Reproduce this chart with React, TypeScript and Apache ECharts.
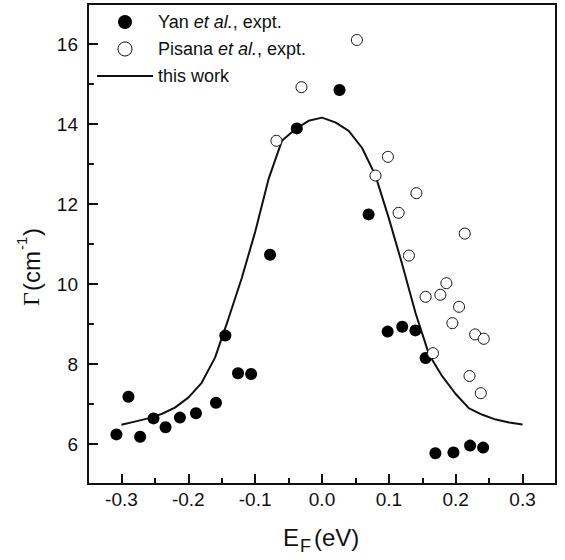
import React, { useEffect, useRef } from 'react';
import * as echarts from 'echarts';

// Yan et al., expt. (filled circles)
const yanX = [-0.3075, -0.2895, -0.272, -0.252, -0.234, -0.2125, -0.1885, -0.1586, -0.1446, -0.1256, -0.106, -0.0777, -0.0377, 0.0262, 0.0697, 0.0982, 0.12, 0.1397, 0.155, 0.1696, 0.1966, 0.2215, 0.241];
const yanY = [6.24, 7.18, 6.18, 6.64, 6.42, 6.66, 6.77, 7.03, 8.71, 7.77, 7.75, 10.73, 13.89, 14.85, 11.74, 8.81, 8.93, 8.84, 8.15, 5.77, 5.79, 5.96, 5.91];

// Pisana et al., expt. (open circles)
const pisX = [-0.0682, -0.0307, 0.0522, 0.08, 0.0986, 0.1146, 0.13, 0.1412, 0.155, 0.166, 0.177, 0.186, 0.195, 0.205, 0.2135, 0.2206, 0.229, 0.2375, 0.242];
const pisY = [13.58, 14.92, 16.1, 12.71, 13.18, 11.78, 10.71, 12.27, 9.68, 8.27, 9.73, 10.02, 9.02, 9.43, 11.26, 7.7, 8.74, 7.27, 8.63];

// this work (solid line)
const curveX = [-0.3, -0.28, -0.26, -0.24, -0.22, -0.2, -0.18, -0.16, -0.14, -0.12, -0.1, -0.08, -0.06, -0.04, -0.02, 0.0, 0.02, 0.04, 0.06, 0.08, 0.1, 0.12, 0.14, 0.16, 0.18, 0.2, 0.22, 0.24, 0.26, 0.28, 0.3];
const curveY = [6.48, 6.56, 6.64, 6.75, 6.91, 7.16, 7.53, 8.16, 9.13, 10.15, 11.3, 12.62, 13.58, 13.87, 14.08, 14.16, 14.04, 13.83, 13.4, 12.71, 11.64, 10.49, 9.27, 8.24, 7.69, 7.25, 6.89, 6.73, 6.61, 6.54, 6.49];

// axis ticks
const xMajor = [-0.3, -0.2, -0.1, 0.0, 0.1, 0.2, 0.3];
const xMinor = [-0.25, -0.15, -0.05, 0.05, 0.15, 0.25];
const yMajor = [6, 8, 10, 12, 14, 16];
const yMinor = [7, 9, 11, 13, 15];

const yanName = 'Yan et al., expt.';
const pisName = 'Pisana et al., expt.';
const curveName = 'this work';

const SANS = '"Liberation Sans", Arial, Helvetica, sans-serif';
const SERIF = '"Liberation Serif", "Times New Roman", serif';
const INK = '#111';

export default function App() {
  const ref = useRef<HTMLDivElement>(null);

  useEffect(() => {
    if (!ref.current) return;
    const chart = echarts.init(ref.current, null, { renderer: 'svg' });

    const zip = (xs: number[], ys: number[]) => xs.map((x, i) => [x, ys[i]]);

    const baseAxis = {
      type: 'value' as const,
      splitLine: { show: false },
    };

    const option: any = {
      animation: false,
      backgroundColor: '#fff',
      grid: {
        left: 88,
        right: 9,
        top: 4,
        bottom: 76,
        show: true,
        borderColor: INK,
        borderWidth: 2,
        backgroundColor: 'transparent',
        containLabel: false,
        outerBoundsMode: 'none',
      },
      xAxis: [
        {
          ...baseAxis,
          min: -0.35,
          max: 0.35,
          position: 'bottom',
          axisLine: { show: true, onZero: false, lineStyle: { color: INK, width: 2 } },
          axisTick: { show: true, inside: true, length: 10, customValues: xMajor, lineStyle: { color: INK, width: 2 } },
          axisLabel: {
            customValues: xMajor,
            formatter: (v: number) => v.toFixed(1),
            fontSize: 19,
            fontFamily: SANS,
            color: INK,
            margin: 6,
          },
        },
        {
          ...baseAxis,
          min: -0.35,
          max: 0.35,
          position: 'bottom',
          axisLine: { show: false, onZero: false },
          axisTick: { show: true, inside: true, length: 6, customValues: xMinor, lineStyle: { color: INK, width: 2 } },
          axisLabel: { show: false },
        },
      ],
      yAxis: [
        {
          ...baseAxis,
          min: 5,
          max: 17,
          position: 'left',
          axisLine: { show: true, onZero: false, lineStyle: { color: INK, width: 2 } },
          axisTick: { show: true, inside: true, length: 10, customValues: yMajor, lineStyle: { color: INK, width: 2 } },
          axisLabel: {
            customValues: yMajor,
            formatter: (v: number) => String(Math.round(v)),
            fontSize: 19,
            fontFamily: SANS,
            color: INK,
            margin: 10,
          },
        },
        {
          ...baseAxis,
          min: 5,
          max: 17,
          position: 'left',
          axisLine: { show: false, onZero: false },
          axisTick: { show: true, inside: true, length: 6, customValues: yMinor, lineStyle: { color: INK, width: 2 } },
          axisLabel: { show: false },
        },
      ],
      legend: {
        orient: 'vertical',
        left: 96,
        top: 12,
        padding: 0,
        itemWidth: 56,
        itemHeight: 14,
        itemGap: 7,
        selectedMode: false,
        textStyle: {
          fontSize: 18,
          fontFamily: SANS,
          color: INK,
          lineHeight: 20,
          rich: {
            i: { fontStyle: 'italic', fontSize: 18, fontFamily: SANS, color: INK, lineHeight: 20 },
          },
        },
        formatter: (name: string) => {
          if (name === yanName) return 'Yan {i|et al.}, expt.';
          if (name === pisName) return 'Pisana {i|et al.}, expt.';
          return name;
        },
        data: [
          { name: yanName, itemStyle: { color: '#000', opacity: 1 } },
          { name: pisName, itemStyle: { borderWidth: 1, borderColor: INK, color: '#fff', opacity: 1 } },
          { name: curveName, itemStyle: { color: 'rgba(0,0,0,0)', borderWidth: 0 } },
        ],
      },
      series: [
        {
          name: curveName,
          type: 'line',
          xAxisIndex: 0,
          yAxisIndex: 0,
          data: zip(curveX, curveY),
          symbol: 'none',
          showSymbol: false,
          lineStyle: { color: INK, width: 2 },
          itemStyle: { color: INK },
          z: 2,
        },
        {
          name: yanName,
          type: 'scatter',
          xAxisIndex: 0,
          yAxisIndex: 0,
          data: zip(yanX, yanY),
          symbol: 'circle',
          symbolSize: 12,
          itemStyle: { color: '#000', opacity: 1 },
          z: 3,
        },
        {
          name: pisName,
          type: 'scatter',
          xAxisIndex: 0,
          yAxisIndex: 0,
          data: zip(pisX, pisY),
          symbol: 'circle',
          symbolSize: 11,
          itemStyle: { color: '#fff', borderColor: INK, borderWidth: 1, opacity: 1 },
          z: 4,
        },
      ],
      graphic: [
        // x-axis title: E_F (eV)
        {
          type: 'text',
          left: 283,
          top: 525,
          style: { text: 'E', font: `24px ${SANS}`, fill: INK },
        },
        {
          type: 'text',
          left: 300,
          top: 537,
          style: { text: 'F', font: `18px ${SANS}`, fill: INK },
        },
        {
          type: 'text',
          left: 314,
          top: 525,
          style: { text: '(eV)', font: `24px ${SANS}`, fill: INK },
        },
        // y-axis title: Γ (cm-1), rotated
        {
          type: 'group',
          x: 31,
          y: 306,
          rotation: Math.PI / 2,
          children: [
            { type: 'text', x: 0, y: 0, style: { text: 'Γ', font: `24px ${SERIF}`, fill: INK, verticalAlign: 'middle', align: 'left' } },
            { type: 'text', x: 15, y: 0, style: { text: '(cm', font: `24px ${SANS}`, fill: INK, verticalAlign: 'middle', align: 'left' } },
            { type: 'text', x: 56, y: -10, style: { text: '-1', font: `15px ${SANS}`, fill: INK, verticalAlign: 'middle', align: 'left' } },
            { type: 'text', x: 70, y: 0, style: { text: ')', font: `24px ${SANS}`, fill: INK, verticalAlign: 'middle', align: 'left' } },
          ],
        },
      ],
    };

    chart.setOption(option);
    return () => chart.dispose();
  }, []);

  return (
    <div
      ref={ref}
      style={{ position: 'fixed', left: 0, top: 0, width: 565, height: 560, background: '#fff' }}
    />
  );
}
